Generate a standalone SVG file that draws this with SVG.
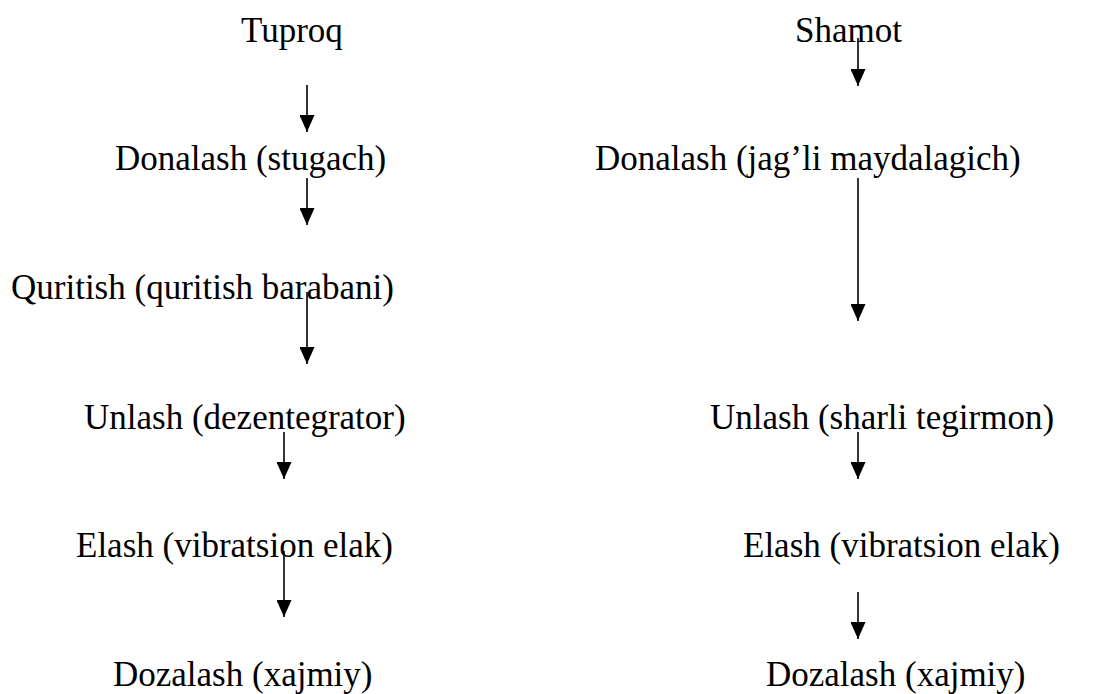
<svg xmlns="http://www.w3.org/2000/svg" width="1095" height="694" viewBox="0 0 1095 694">
<style>
text{font-family:"Liberation Serif","Times New Roman",serif;font-size:35px;fill:#000}
.c line{stroke:#000;stroke-width:1.6;marker-end:url(#ah)}
</style>
<defs>
<marker id="ah" markerUnits="userSpaceOnUse" markerWidth="17" markerHeight="15" refX="17" refY="7.5" orient="auto" viewBox="0 0 17 15">
<path d="M0,0 L17,7.5 L0,15 Z" fill="#000"/>
</marker>
</defs>
<rect width="1095" height="694" fill="#fff"/>
<g id="n1"><text x="241" y="42">Tuproq</text></g>
<g id="n2"><text x="115" y="170">Donalash (stugach)</text></g>
<g id="n3"><text x="11" y="299">Quritish (quritish barabani)</text></g>
<g id="n4"><text x="84" y="429">Unlash (dezentegrator)</text></g>
<g id="n5"><text x="76" y="557">Elash (vibratsion elak)</text></g>
<g id="n6"><text x="113" y="686">Dozalash (xajmiy)</text></g>
<g id="n7"><text x="795" y="42">Shamot</text></g>
<g id="n8"><text x="595" y="170">Donalash (jag’li maydalagich)</text></g>
<g id="n9"><text x="710" y="429">Unlash (sharli tegirmon)</text></g>
<g id="n10"><text x="743" y="557">Elash (vibratsion elak)</text></g>
<g id="n11"><text x="766" y="686">Dozalash (xajmiy)</text></g>
<g id="connectors" class="c">
<line x1="307" y1="85" x2="307" y2="132"/>
<line x1="307" y1="178" x2="307" y2="225"/>
<line x1="307" y1="292" x2="307" y2="364"/>
<line x1="284" y1="432" x2="284" y2="479"/>
<line x1="284" y1="551" x2="284" y2="617"/>
<line x1="858" y1="38" x2="858" y2="86"/>
<line x1="858" y1="178" x2="858" y2="321"/>
<line x1="858" y1="432" x2="858" y2="479"/>
<line x1="858" y1="592" x2="858" y2="639"/>
</g>
</svg>
